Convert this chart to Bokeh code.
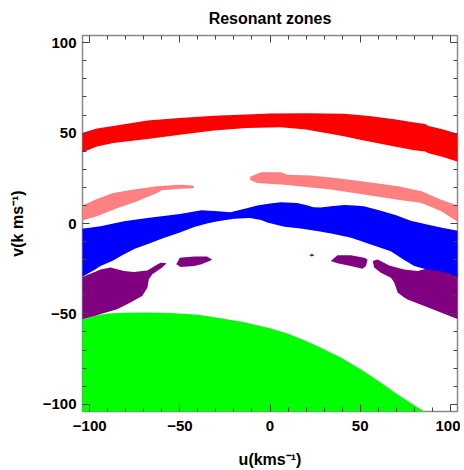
from bokeh.plotting import figure
from bokeh.models import Range1d, LinearAxis, FixedTicker
from bokeh.embed import file_html
from bokeh.resources import INLINE

# ---- data (u, v in km/s) ----
red_top_u = [-105, -96, -87, -68, -50, -31, -13, 0, 20, 41, 55, 69, 80, 86, 88, 95, 105]
red_top_v = [49.8, 52.5, 54, 57, 58.3, 59.6, 60.3, 60.8, 61, 60.7, 59.5, 57.7, 55.9, 55, 54, 52.3, 49.5]
red_bot_u = [-105, -96, -87, -68, -50, -31, -13, 6, 20, 41, 50, 69, 80, 86, 88, 95, 105]
red_bot_v = [39, 42.6, 44.5, 46.7, 49.1, 51.5, 52.8, 53.3, 52, 48.2, 46.3, 42.6, 40.5, 39.8, 38.8, 37, 34]

pink_left_u = [-105, -96, -87, -75.5, -62.6, -50, -43, -42, -43, -50, -60, -62.6, -73.7, -86.7, -96, -105]
pink_left_v = [9.5, 13.6, 16.9, 18.8, 20.6, 21.5, 21, 20.2, 19.5, 19.2, 18.4, 16.9, 12.3, 7.7, 4, 1.5]
pink_right_u = [-11, -5, 6, 9.7, 22.6, 33.7, 52, 71, 84, 95, 105, 105, 95, 84, 71, 52, 33.7, 7.8, -7, -11]
pink_right_v = [25.8, 28.3, 28.3, 27, 26.5, 25.5, 23.3, 20.6, 17.8, 13.2, 9.5, 0.4, 6.8, 11.4, 13.2, 16, 18.8, 21.5, 22.4, 24]

blue_top_u = [-105, -94, -81, -68, -50, -38, -29, -22, -14, -7, 0, 6, 15, 20, 24, 28, 34, 41, 47, 52, 60, 70, 78, 89, 96, 105]
blue_top_v = [-3, -1.5, 1.3, 3.1, 5.3, 7.3, 6.8, 6.2, 8.1, 9.9, 11, 11.7, 11.4, 10.3, 9, 8.9, 9.6, 10.3, 10, 9.5, 7.5, 4.5, 1.5, -1, -2.5, -4.2]
blue_bot_u = [-105, -97, -94, -87, -82, -75, -67, -59, -50, -42, -35, -29, -20, -11, -5, -1, 8, 17, 26, 34, 45, 56, 67, 74, 80, 87, 95, 99, 105]
blue_bot_v = [-30, -25.5, -23.5, -20.5, -17.5, -14, -11, -8, -5, -2, 0, 1.3, 2.6, 3.1, 2, 0.4, -1.8, -2.8, -4.2, -5.5, -7.9, -11.6, -15.3, -19.9, -23.5, -25.4, -26.5, -27.5, -30]

purple_left_u = [-105, -94, -88.5, -81, -75.5, -68, -63.5, -60.7, -57.4, -59.8, -65.3, -67.2, -68, -70.9, -77.4, -84.8, -90, -97, -105]
purple_left_v = [-30, -25.4, -24.4, -26.3, -26.8, -26, -23.2, -21.7, -22, -24.4, -28.1, -30.9, -35.5, -40.1, -43.7, -47.4, -49, -51, -53.3]
purple_blob1_u = [-52, -50, -42, -35, -32, -38, -42, -49.5]
purple_blob1_v = [-22.5, -19, -18.3, -18.3, -20, -22.5, -23.5, -24]
purple_dot_u = [21.8, 23.2, 24.6, 23.2]
purple_dot_v = [-17.5, -16.8, -17.5, -18.3]
purple_blob2_u = [33.7, 37.4, 44.8, 52.2, 54.1, 53.2, 51.3, 44.8, 37.4]
purple_blob2_v = [-20.8, -17.6, -17.6, -18.9, -19.9, -23.5, -25, -23.5, -22]
purple_right_u = [57, 59.7, 62.4, 66.1, 74.4, 81.9, 89.3, 98.6, 105, 105, 94.8, 85.6, 76.3, 74.4, 70.8, 68.9, 67.1, 61.5, 57.8]
purple_right_v = [-20.8, -19.9, -21.3, -23.2, -25.4, -26.3, -24.4, -27.2, -29, -53.3, -49.3, -45.6, -42, -41, -38.2, -32.7, -30, -27.2, -24.4]

green_u = [-105, -97, -90, -80, -70, -55, -40, -30, -15, 0, 10, 20, 30, 40, 50, 60, 70, 80, 85.5, 86, -105]
green_v = [-53.5, -51, -49.8, -49.4, -49.3, -49.5, -50.5, -52, -54.5, -58, -61, -65, -69.5, -74.5, -80.5, -87, -94, -100.5, -104, -105, -105]

major_ticks = [-100, -50, 0, 50, 100]
minor_ticks = [-90, -80, -70, -60, -40, -30, -20, -10, 10, 20, 30, 40, 60, 70, 80, 90]
tick_labels = {-100: "\u2212100", -50: "\u221250", 0: "0", 50: "50", 100: "100"}

FONT = "Liberation Sans"

p = figure(width=460, height=470, x_range=Range1d(-104, 104), y_range=Range1d(-104, 104),
           output_backend="svg", toolbar_location=None,
           min_border_left=82, min_border_right=3, min_border_top=35, min_border_bottom=58)
p.xgrid.visible = False
p.ygrid.visible = False
p.background_fill_color = "white"
p.border_fill_color = "white"
p.outline_line_color = "#8a8a8a"
p.outline_line_width = 1.5

p.title.text = "Resonant zones"
p.title.align = "center"
p.title.vertical_align = "top"
p.title.text_font = FONT
p.title.text_font_style = "bold"
p.title.text_font_size = "16px"
p.title.text_color = "black"
p.title.standoff = 14

def band(tu, tv, bu, bv):
    return tu + bu[::-1], tv + bv[::-1]

p.patch(green_u, green_v, fill_color="#00ff00", line_color=None)
p.patches([purple_left_u, purple_blob1_u, purple_dot_u, purple_blob2_u, purple_right_u],
          [purple_left_v, purple_blob1_v, purple_dot_v, purple_blob2_v, purple_right_v],
          fill_color="#800080", line_color=None)
bu_, bv_ = band(blue_top_u, blue_top_v, blue_bot_u, blue_bot_v)
p.patch(bu_, bv_, fill_color="#0000ff", line_color=None)
p.patches([pink_left_u, pink_right_u], [pink_left_v, pink_right_v], fill_color="#ff8080", line_color=None)
ru_, rv_ = band(red_top_u, red_top_v, red_bot_u, red_bot_v)
p.patch(ru_, rv_, fill_color="#ff0000", line_color=None)

TICK = "#444444"

def tick_style(ax, major_len, minor_len):
    ax.axis_line_color = None
    ax.major_tick_in = major_len
    ax.major_tick_out = 0
    ax.minor_tick_in = minor_len
    ax.minor_tick_out = 0
    ax.major_tick_line_color = TICK
    ax.minor_tick_line_color = TICK

for ax, lbl in ((p.xaxis[0], "u(kms\u207b\u00b9)"), (p.yaxis[0], "v(k ms\u207b\u00b9)")):
    ax.ticker = FixedTicker(ticks=major_ticks, minor_ticks=minor_ticks)
    tick_style(ax, 7, 4)
    ax.major_label_overrides = tick_labels
    ax.major_label_text_font = FONT
    ax.major_label_text_font_style = "bold"
    ax.major_label_text_font_size = "15px"
    ax.major_label_text_color = "black"
    ax.axis_label = lbl
    ax.axis_label_text_font = FONT
    ax.axis_label_text_font_style = "bold"
    ax.axis_label_text_font_size = "16px"
    ax.axis_label_text_color = "black"

p.xaxis[0].major_label_standoff = 9
p.xaxis[0].axis_label_standoff = 17
p.yaxis[0].major_label_standoff = 6
p.yaxis[0].axis_label_standoff = 14

# ticks only on the top and right frame edges (no labels)
for side in ("above", "right"):
    ax_minor = LinearAxis(ticker=FixedTicker(ticks=[], minor_ticks=minor_ticks))
    tick_style(ax_minor, 0, 4)
    ax_major = LinearAxis(ticker=FixedTicker(ticks=[], minor_ticks=major_ticks))
    tick_style(ax_major, 0, 7)
    p.add_layout(ax_minor, side)
    p.add_layout(ax_major, side)

open("out.html", "w").write(file_html(p, INLINE))
